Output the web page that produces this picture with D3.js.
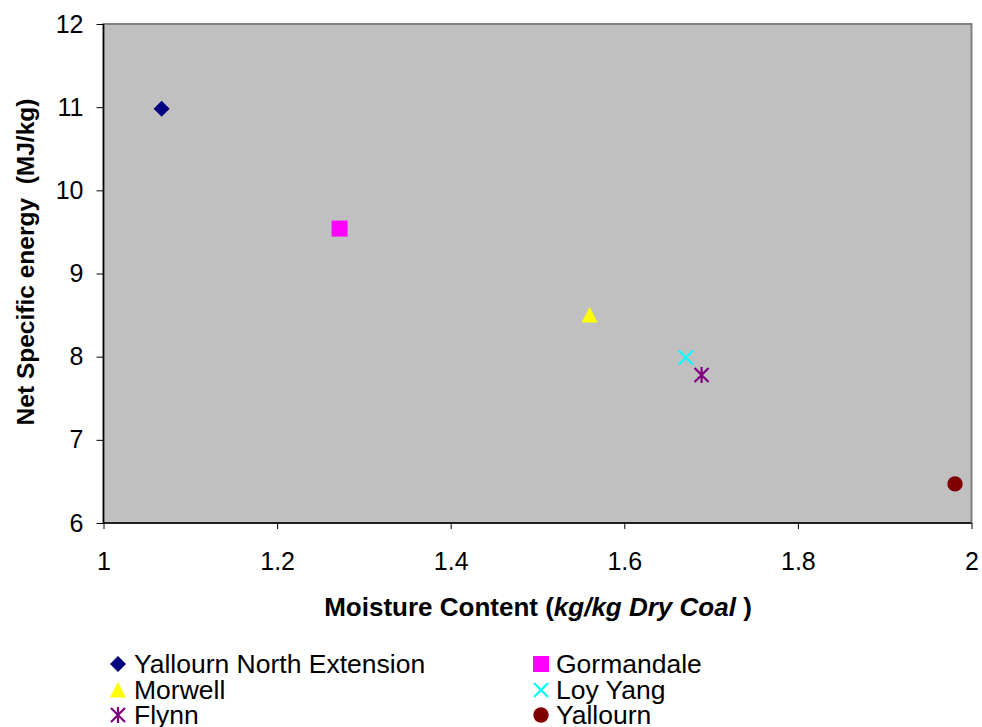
<!DOCTYPE html>
<html><head><meta charset="utf-8">
<script src="https://cdn.jsdelivr.net/npm/d3@7"></script>
<style>
html,body{margin:0;padding:0;background:#fff;}
text{font-family:"Liberation Sans",Arial,sans-serif;}
</style></head>
<body><svg id="c" width="982" height="727"></svg>
<script>
const names = ["Yallourn North Extension","Gormandale","Morwell","Loy Yang","Flynn","Yallourn"];
const moisture = [1.067, 1.272, 1.560, 1.671, 1.689, 1.981];
const energy = [10.98, 9.54, 8.50, 7.99, 7.78, 6.47];
const colors = ["#000080","#FF00FF","#FFFF00","#00FFFF","#800080","#800000"];
const shapes = ["diamond","square","triangle","x","star","circle"];
const xTicks = [1, 1.2, 1.4, 1.6, 1.8, 2];
const yTicks = [6, 7, 8, 9, 10, 11, 12];

const svg = d3.select("#c");
const L = 103.5, R = 971.5, T = 24, B = 523;
const x = d3.scaleLinear().domain([1, 2]).range([L, R]);
const y = d3.scaleLinear().domain([6, 12]).range([B, T]);

svg.append("rect").attr("x", L).attr("y", T).attr("width", R - L).attr("height", B - T)
  .attr("fill", "#C0C0C0").attr("stroke", "#808080").attr("stroke-width", 2);

const yAxis = svg.append("g").attr("transform", `translate(${L},0)`)
  .call(d3.axisLeft(y).tickValues(yTicks).tickSize(7).tickPadding(13).tickFormat(d3.format("d")));
const xAxis = svg.append("g").attr("transform", `translate(0,${B})`)
  .call(d3.axisBottom(x).tickValues(xTicks).tickSize(6).tickPadding(23).tickFormat(d => d3.format("")(d)));
[yAxis, xAxis].forEach(g => {
  g.select(".domain").attr("stroke", "#000").attr("stroke-width", 1.5);
  g.selectAll(".tick line").attr("stroke", "#000").attr("stroke-width", 1);
  g.selectAll(".tick text").attr("fill", "#000").style("font-size", "25px")
    .style("font-family", '"Liberation Sans",Arial,sans-serif');
});
xAxis.select(".domain").attr("d", `M${L},0H${R}`);
yAxis.select(".domain").attr("d", `M0,${B}V${T}`);

function drawMarker(g, shape, color, cx, cy) {
  const s = 8;
  if (shape === "diamond") {
    g.append("path").attr("d", `M${cx},${cy - s}L${cx + s},${cy}L${cx},${cy + s}L${cx - s},${cy}Z`).attr("fill", color);
  } else if (shape === "square") {
    g.append("rect").attr("x", cx - s).attr("y", cy - s).attr("width", 2 * s).attr("height", 2 * s).attr("fill", color);
  } else if (shape === "triangle") {
    g.append("path").attr("d", `M${cx},${cy - s}L${cx + s},${cy + s - 0.5}L${cx - s},${cy + s - 0.5}Z`).attr("fill", color);
  } else if (shape === "circle") {
    g.append("circle").attr("cx", cx).attr("cy", cy).attr("r", 7.7).attr("fill", color);
  } else if (shape === "x") {
    g.append("path").attr("d", `M${cx - 7},${cy - 7}L${cx + 7},${cy + 7}M${cx + 7},${cy - 7}L${cx - 7},${cy + 7}`)
      .attr("stroke", color).attr("stroke-width", 2.2).attr("fill", "none");
  } else if (shape === "star") {
    g.append("path").attr("d", `M${cx - 7},${cy - 7}L${cx + 7},${cy + 7}M${cx + 7},${cy - 7}L${cx - 7},${cy + 7}M${cx},${cy - 8}L${cx},${cy + 8}`)
      .attr("stroke", color).attr("stroke-width", 2.2).attr("fill", "none");
  }
}

const pts = svg.append("g");
names.forEach((n, i) => drawMarker(pts, shapes[i], colors[i], x(moisture[i]), y(energy[i])));

// axis titles
const xt = svg.append("text").attr("x", 538).attr("y", 616).attr("text-anchor", "middle")
  .style("font-size", "26px").style("font-weight", "bold").attr("fill", "#000");
xt.append("tspan").text("Moisture Content (");
xt.append("tspan").style("font-style", "italic").text("kg/kg Dry Coal");
xt.append("tspan").attr("xml:space", "preserve").style("white-space", "pre").text(" )");

svg.append("text").attr("transform", "translate(28,262) rotate(-90)").attr("text-anchor", "middle")
  .attr("dominant-baseline", "middle").style("font-size", "24.5px").style("font-weight", "bold")
  .style("white-space", "pre").attr("fill", "#000").text("Net Specific energy  (MJ/kg)");

// legend
const legCols = [118, 541], legTextX = [134, 556], legRows = [664, 690, 715];
const leg = svg.append("g");
names.forEach((n, i) => {
  const c = i % 2, r = Math.floor(i / 2);
  drawMarker(leg, shapes[i], colors[i], legCols[c], legRows[r]);
  leg.append("text").attr("x", legTextX[c]).attr("y", legRows[r]).attr("dominant-baseline", "central")
    .style("font-size", "26.5px").attr("fill", "#000").text(n);
});
</script></body></html>
